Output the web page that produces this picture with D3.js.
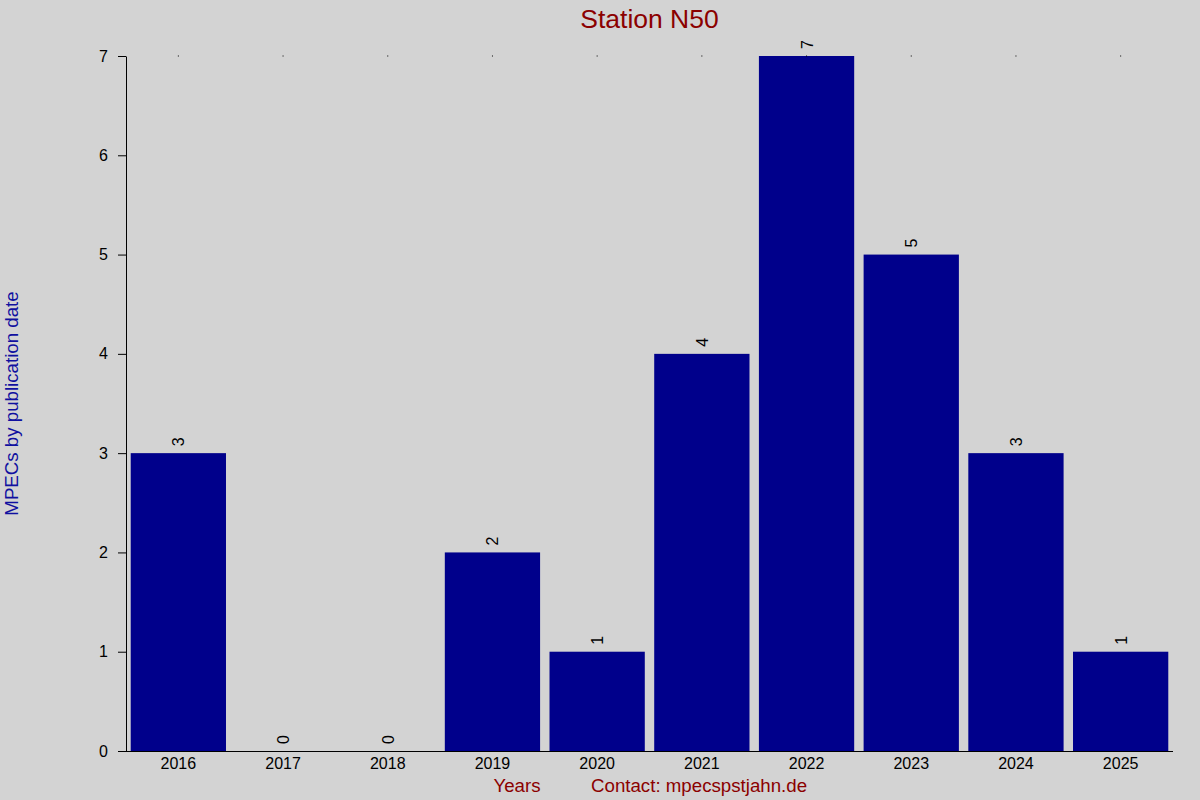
<!DOCTYPE html>
<html>
<head>
<meta charset="utf-8">
<script src="https://cdn.jsdelivr.net/npm/d3@7"></script>
<style>
  body { margin: 0; background: #d3d3d3; }
  svg { display: block; font-family: "Liberation Sans", Arial, sans-serif; }
</style>
</head>
<body>
<svg id="chart" width="1200" height="800"></svg>
<script>
const years = ['2016', '2017', '2018', '2019', '2020', '2021', '2022', '2023', '2024', '2025'];
const counts = [3, 0, 0, 2, 1, 4, 7, 5, 3, 1];
const yTicks = [0, 1, 2, 3, 4, 5, 6, 7];

const width = 1200, height = 800;
const margin = { top: 56, right: 27, bottom: 49, left: 126 };
const font = '"Liberation Sans", Arial, sans-serif';

const svg = d3.select('#chart');
svg.append('rect').attr('width', width).attr('height', height).attr('fill', '#d3d3d3');

const x = d3.scaleBand()
  .domain(years)
  .range([margin.left, width - margin.right])
  .paddingInner(0.09)
  .paddingOuter(0.045);

const y = d3.scaleLinear()
  .domain([0, 7])
  .range([height - margin.bottom, margin.top]);

// bars
svg.selectAll('.bar')
  .data(years)
  .join('rect')
  .attr('class', 'bar')
  .attr('x', d => x(d))
  .attr('y', (d, i) => y(counts[i]))
  .attr('width', x.bandwidth())
  .attr('height', (d, i) => y(0) - y(counts[i]))
  .attr('fill', '#00008b');

// value labels, rotated
svg.selectAll('.val')
  .data(years)
  .join('text')
  .attr('class', 'val')
  .attr('transform', (d, i) => `translate(${x(d) + x.bandwidth() / 2 + 6},${y(counts[i]) - 7}) rotate(-90)`)
  .attr('font-size', 16)
  .attr('fill', '#000')
  .text((d, i) => counts[i]);

// little dots along the top
svg.selectAll('.dot')
  .data(years)
  .join('rect')
  .attr('class', 'dot')
  .attr('x', d => x(d) + x.bandwidth() / 2 - 0.5)
  .attr('y', y(7) - 0.5)
  .attr('width', 1)
  .attr('height', 1)
  .attr('fill', '#000');

// y axis
const yAxis = svg.append('g')
  .attr('transform', `translate(${margin.left},0)`)
  .attr('font-size', 16)
  .attr('font-family', font)
  .call(d3.axisLeft(y).tickValues(yTicks).tickFormat(d3.format('d')).tickSize(8).tickPadding(10).tickSizeOuter(0));
yAxis.select('.domain').attr('stroke', '#000');
yAxis.selectAll('text').attr('font-size', 16).attr('fill', '#000');

// x axis
const xAxis = svg.append('g')
  .attr('transform', `translate(0,${height - margin.bottom})`)
  .attr('font-size', 16)
  .attr('font-family', font)
  .call(d3.axisBottom(x).tickSize(0).tickPadding(7).tickSizeOuter(0));
xAxis.select('.domain').attr('d', `M${margin.left - 8},0.5H${width - margin.right}`).attr('stroke', '#000');
xAxis.selectAll('text').attr('font-size', 16).attr('fill', '#000');

// title
svg.append('text')
  .attr('x', (margin.left + width - margin.right) / 2)
  .attr('y', 28)
  .attr('text-anchor', 'middle')
  .attr('font-size', 26.5)
  .attr('fill', '#8b0000')
  .text('Station N50');

// y label
svg.append('text')
  .attr('transform', `translate(18,${(margin.top + height - margin.bottom) / 2}) rotate(-90)`)
  .attr('text-anchor', 'middle')
  .attr('font-size', 18.7)
  .attr('fill', '#1010a0')
  .text('MPECs by publication date');

// bottom labels
svg.append('text')
  .attr('x', 517)
  .attr('y', 792)
  .attr('text-anchor', 'middle')
  .attr('font-size', 18.7)
  .attr('fill', '#8b0000')
  .text('Years');

svg.append('text')
  .attr('x', 591)
  .attr('y', 792)
  .attr('font-size', 18.7)
  .attr('fill', '#8b0000')
  .text('Contact: mpecspstjahn.de');
</script>
</body>
</html>
